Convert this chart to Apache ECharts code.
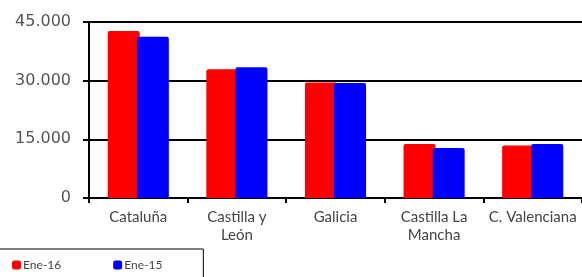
<!DOCTYPE html>
<html>
<head>
<meta charset="utf-8">
<script src="https://cdn.jsdelivr.net/npm/echarts@6/dist/echarts.min.js"></script>
<style>
  html, body { margin: 0; padding: 0; background: #fff; }
  #chart { width: 582px; height: 277px; }
</style>
</head>
<body>
<div id="chart"></div>
<script>
// datos
const regiones = ["Cataluña", "Castilla y\nLeón", "Galicia", "Castilla La\nMancha", "C. Valenciana"];
const ene16 = [42700, 32900, 29500, 13800, 13400];
const ene15 = [41200, 33400, 29400, 12800, 13800];
const series_names = ["Ene-16", "Ene-15"];

const fmt = (v) => v === 0 ? "0" : String(v).replace(/\B(?=(\d{3})+(?!\d))/g, ".");

const chart = echarts.init(document.getElementById("chart"));
chart.setOption({
  animation: false,
  textStyle: { fontFamily: "Lato" },
  grid: { left: 89, top: 22, right: 0, bottom: 79 },
  legend: {
    left: -3,
    top: 249,
    padding: [10, 41, 10, 15],
    borderColor: "#000",
    borderWidth: 1,
    icon: "roundRect",
    itemWidth: 9,
    itemHeight: 9,
    itemGap: 52,
    textStyle: { fontSize: 12, color: "#444", padding: [0, 0, 0, -3] },
    data: series_names,
  },
  xAxis: {
    type: "category",
    data: regiones,
    axisLine: { lineStyle: { color: "#000", width: 2 } },
    axisTick: { show: true, length: 5, lineStyle: { color: "#000", width: 2 } },
    axisLabel: { color: "#444", fontSize: 15, lineHeight: 18, margin: 10, interval: 0 },
  },
  yAxis: {
    type: "value",
    min: 0,
    max: 45000,
    interval: 15000,
    axisLine: { show: true, lineStyle: { color: "#000", width: 2 } },
    axisTick: { show: true, length: 6, lineStyle: { color: "#000", width: 2 } },
    axisLabel: { color: "#555", fontSize: 16, fontFamily: "DejaVu Sans", margin: 18, formatter: fmt },
    splitLine: { lineStyle: { color: "#000", width: 2 } },
  },
  series: [
    {
      name: series_names[0],
      type: "bar",
      data: ene16,
      barWidth: 32,
      barGap: "-9%",
      itemStyle: { color: "#ff0000", borderRadius: [2, 2, 0, 0] },
    },
    {
      name: series_names[1],
      type: "bar",
      data: ene15,
      barWidth: 32,
      itemStyle: { color: "#0000ff", borderRadius: [2, 2, 0, 0] },
    },
  ],
});
</script>
</body>
</html>
